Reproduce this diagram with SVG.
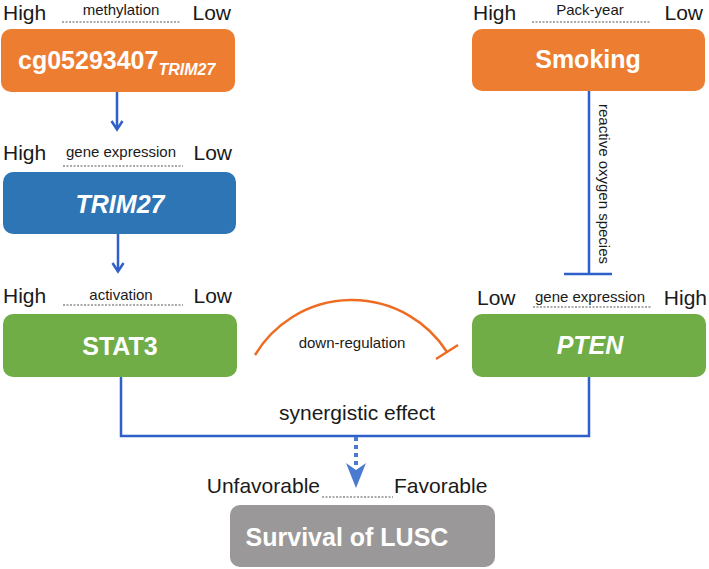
<svg xmlns="http://www.w3.org/2000/svg" width="709" height="569" viewBox="0 0 709 569">
<style>
text{font-family:"Liberation Sans",Arial,sans-serif;fill:#1a1a1a}
.big{font-size:21px}
.small{font-size:15px}
.lbl{font-size:25px;font-weight:bold;fill:#fff}
.dot{stroke:#555;stroke-width:1;stroke-dasharray:2 1.5;fill:none}
.conn{stroke:#2F5FC9;stroke-width:2.5;fill:none}
</style>
<rect width="709" height="569" fill="#fff"/>
<g id="labels">
<text class="big" x="3" y="20">High</text>
<text class="small" x="121" y="15" text-anchor="middle">methylation</text>
<text class="big" x="231" y="20" text-anchor="end">Low</text>
<line class="dot" x1="62" y1="22" x2="181" y2="22"/>
<text class="big" x="473" y="20">High</text>
<text class="small" x="590" y="15" text-anchor="middle">Pack-year</text>
<text class="big" x="703" y="20" text-anchor="end">Low</text>
<line class="dot" x1="532" y1="22" x2="650" y2="22"/>
<text class="big" x="3" y="160">High</text>
<text class="small" x="121" y="157" text-anchor="middle">gene expression</text>
<text class="big" x="232" y="160" text-anchor="end">Low</text>
<line class="dot" x1="63" y1="166" x2="183" y2="166"/>
<text class="big" x="3" y="303">High</text>
<text class="small" x="121" y="300" text-anchor="middle">activation</text>
<text class="big" x="232" y="303" text-anchor="end">Low</text>
<line class="dot" x1="63" y1="305" x2="183" y2="305"/>
<text class="big" x="477" y="305">Low</text>
<text class="small" x="590" y="302" text-anchor="middle">gene expression</text>
<text class="big" x="707" y="305" text-anchor="end">High</text>
<line class="dot" x1="533" y1="307" x2="652" y2="307"/>
<text class="big" x="320" y="493" text-anchor="end">Unfavorable</text>
<text class="big" x="394" y="493">Favorable</text>
<line class="dot" x1="322" y1="497" x2="393" y2="497"/>
</g>
<g id="node-cg">
<rect x="1" y="29" width="234" height="63" rx="10" fill="#ED7D31"/>
<text class="lbl" x="18" y="69">cg05293407<tspan font-size="16" font-style="italic" dy="6">TRIM27</tspan></text>
</g>
<g id="node-smoking">
<rect x="472" y="29" width="233" height="62" rx="10" fill="#ED7D31"/>
<text class="lbl" x="588" y="68" text-anchor="middle">Smoking</text>
</g>
<g id="node-trim27">
<rect x="3" y="172" width="233" height="62" rx="10" fill="#2E75B6"/>
<text class="lbl" x="120" y="213" text-anchor="middle" font-style="italic">TRIM27</text>
</g>
<g id="node-stat3">
<rect x="3" y="314" width="234" height="63" rx="10" fill="#70AD47"/>
<text class="lbl" x="120" y="355" text-anchor="middle">STAT3</text>
</g>
<g id="node-pten">
<rect x="472" y="314" width="234" height="63" rx="10" fill="#70AD47"/>
<text class="lbl" x="590" y="354" text-anchor="middle" font-style="italic">PTEN</text>
</g>
<g id="node-survival">
<rect x="230" y="505" width="265" height="62" rx="10" fill="#9A9898"/>
<text class="lbl" x="347" y="546" text-anchor="middle">Survival of LUSC</text>
</g>
<g id="connectors">
<line class="conn" x1="117" y1="92" x2="117" y2="129"/>
<polyline class="conn" points="111.5,121 117,129.5 122.5,121"/>
<line class="conn" x1="118" y1="234" x2="118" y2="271"/>
<polyline class="conn" points="112.5,263 118,271.5 123.5,263"/>
<line class="conn" x1="589" y1="91" x2="589" y2="274"/>
<line class="conn" x1="564" y1="274" x2="612" y2="274"/>
<text class="small" transform="translate(599 184) rotate(90)" text-anchor="middle">reactive oxygen species</text>
<path d="M255 355 A113 113 0 0 1 447 352" stroke="#EE6C22" stroke-width="2.5" fill="none"/>
<line x1="436" y1="359" x2="458" y2="345" stroke="#EE6C22" stroke-width="2.5"/>
<text class="small" x="352" y="348" text-anchor="middle">down-regulation</text>
<polyline class="conn" points="121,377 121,436 589,436 589,377"/>
<text class="big" x="357" y="420" text-anchor="middle">synergistic effect</text>
<line x1="356" y1="437" x2="356" y2="466" stroke="#4A7BD0" stroke-width="4" stroke-dasharray="4 4"/>
<path d="M346 463 L356 470 L366 463 L356 488 Z" fill="#4A7BD0"/>
</g>
</svg>
